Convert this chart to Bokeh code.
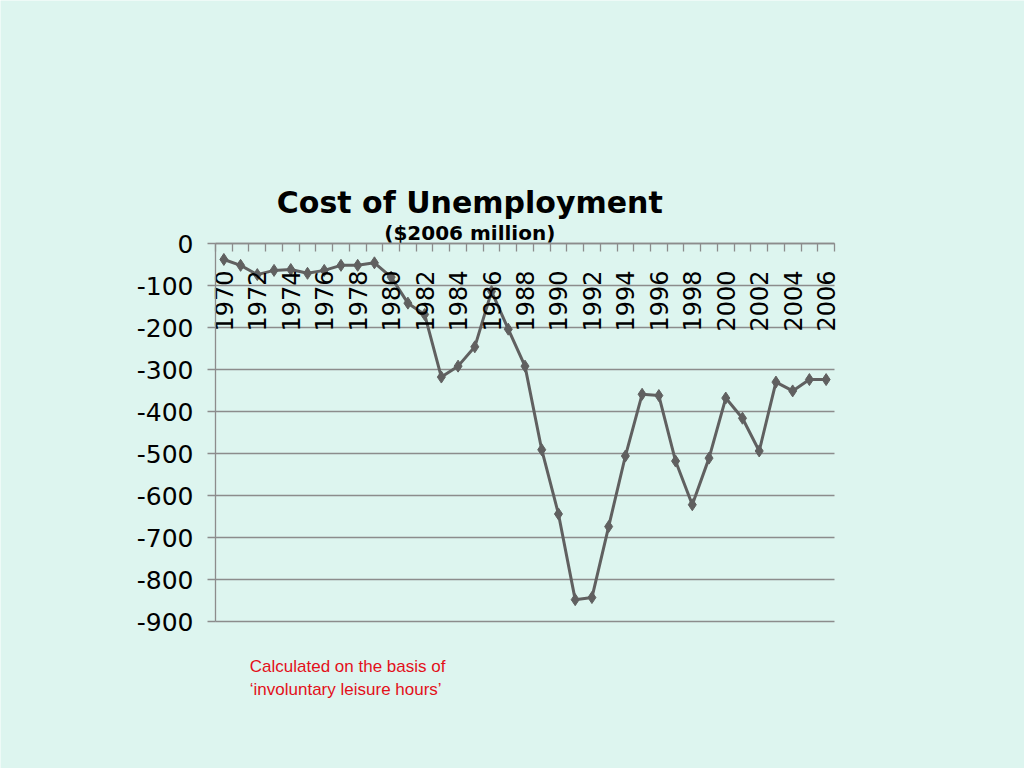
from bokeh.plotting import figure
from bokeh.models import Range1d, FixedTicker, Label
from bokeh.embed import file_html
from bokeh.resources import INLINE

# ---- data ----
years = list(range(1970, 2007))
cost = [-38, -52, -74, -64, -62, -71, -64, -52, -52, -46,
        -80, -142, -169, -318, -292, -246, -114, -204, -292, -491,
        -644, -848, -843, -674, -506, -359, -362, -518, -622, -511,
        -368, -416, -494, -330, -351, -324, -324]
x_tick_years = list(range(1970, 2007, 2))
y_ticks = [0, -100, -200, -300, -400, -500, -600, -700, -800, -900]
y_tick_labels = [str(v) for v in y_ticks]
title_text = "Cost of Unemployment"
subtitle_text = "($2006 million)"
note_lines = ["Calculated on the basis of", "\u2018involuntary leisure hours\u2019"]

BG = "#DDF5EF"
GRID = "#8C8C8C"
LINE = "#606060"

W, H = 1024, 768
# plot area of the chart (pixels) inside the page
PL, PR, PT, PB = 215, 834, 243, 621
x0, x1 = years[0] - 0.5, years[-1] + 0.5
y0, y1 = y_ticks[-1], y_ticks[0]
sx = (PR - PL) / (x1 - x0)
sy = (PB - PT) / (y1 - y0)

p = figure(width=W, height=H,
           x_range=Range1d(x0 - PL / sx, x1 + (W - PR) / sx),
           y_range=Range1d(y0 - (H - PB) / sy, y1 + PT / sy),
           output_backend="svg", toolbar_location=None,
           min_border=0, min_border_left=0, min_border_right=0,
           min_border_top=0, min_border_bottom=0,
           background_fill_color=BG, border_fill_color=BG,
           outline_line_color=None)

# x axis drawn at the zero line, labels inside the plot
xa = p.xaxis[0]
xa.fixed_location = 0
xa.bounds = (x0, x1)
xa.ticker = FixedTicker(ticks=x_tick_years,
                        minor_ticks=[y - 0.5 for y in years] + [years[-1] + 0.5])
xa.major_tick_out = 0
xa.major_tick_in = 0
xa.minor_tick_out = 8
xa.minor_tick_in = 0
xa.minor_tick_line_color = GRID
xa.minor_tick_line_width = 1.3
xa.axis_line_color = GRID
xa.axis_line_width = 1.3
xa.major_label_orientation = 1.5707963
xa.major_label_standoff = 19
xa.major_label_text_font = "DejaVu Sans"
xa.major_label_text_font_size = "24px"
xa.major_label_text_color = "black"

ya = p.yaxis[0]
ya.fixed_location = x0
ya.bounds = (y0, y1)
ya.ticker = FixedTicker(ticks=y_ticks)
ya.major_label_overrides = {v: s for v, s in zip(y_ticks, y_tick_labels)}
ya.major_tick_out = 8
ya.major_tick_in = 0
ya.minor_tick_out = 0
ya.minor_tick_in = 0
ya.major_tick_line_color = GRID
ya.major_tick_line_width = 1.3
ya.axis_line_color = GRID
ya.axis_line_width = 1.3
ya.major_label_standoff = 14
ya.major_label_text_font = "DejaVu Sans"
ya.major_label_text_font_size = "25px"
ya.major_label_text_color = "black"

p.xgrid.visible = False
g = p.ygrid[0]
if "cross_bounds" in g.properties():
    g.ticker = FixedTicker(ticks=y_ticks)
    g.cross_bounds = (x0, x1)
    g.grid_line_color = GRID
    g.grid_line_width = 1.3
else:
    g.visible = False
    p.segment(x0=[x0] * len(y_ticks), y0=y_ticks, x1=[x1] * len(y_ticks), y1=y_ticks,
              line_color=GRID, line_width=1.3)

p.line(years, cost, line_color=LINE, line_width=3)
p.scatter(years, cost, marker="diamond", size=12, fill_color=LINE, line_color=LINE)

p.add_layout(Label(x=1984.7, y=55, text=title_text, text_align="center",
                   text_font="DejaVu Sans", text_font_style="bold",
                   text_font_size="30px", text_color="black"))
p.add_layout(Label(x=1984.7, y=-2.5, text=subtitle_text, text_align="center",
                   text_font="DejaVu Sans", text_font_style="bold",
                   text_font_size="20px", text_color="black"))
p.add_layout(Label(x=1971.55, y=-1030, text=note_lines[0], text_align="left",
                   text_font="Liberation Sans", text_font_size="17px",
                   text_color="#E3101A"))
p.add_layout(Label(x=1971.55, y=-1084, text=note_lines[1], text_align="left",
                   text_font="Liberation Sans", text_font_size="17px",
                   text_color="#E3101A"))

open("out.html", "w").write(file_html(p, INLINE))
